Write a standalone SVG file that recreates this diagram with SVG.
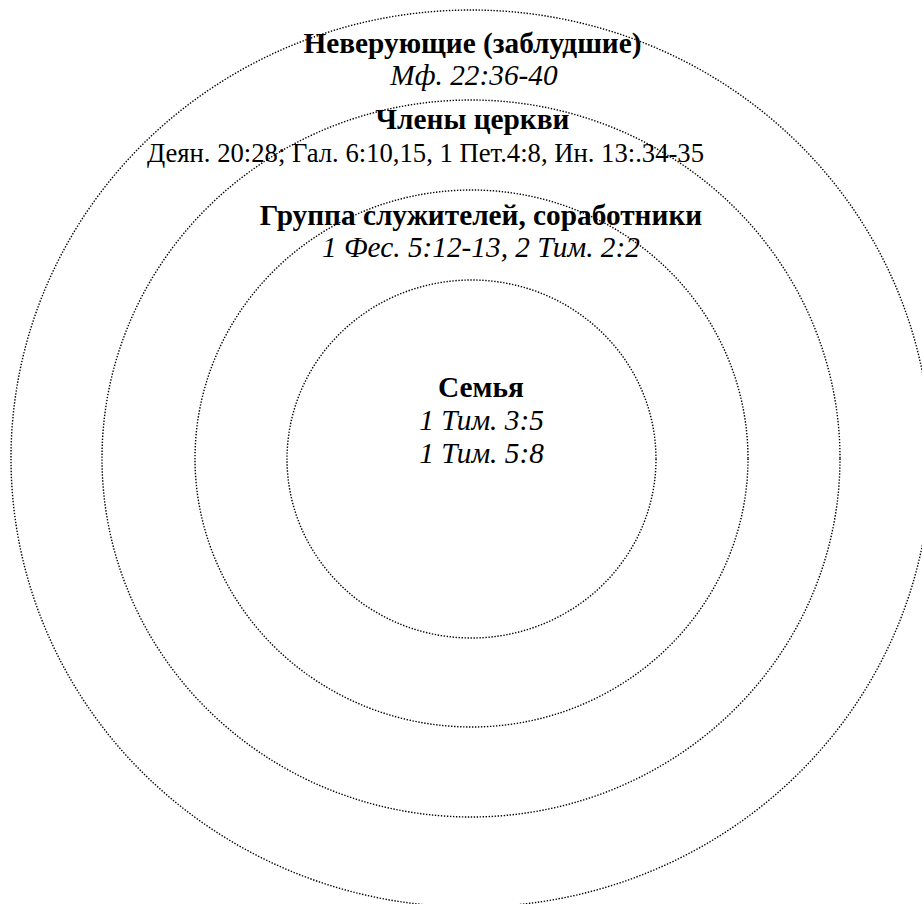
<svg xmlns="http://www.w3.org/2000/svg" width="922" height="904" viewBox="0 0 922 904">
<style>
.ring{fill:none;stroke:#000;stroke-width:1.4;stroke-dasharray:1.4 1.6}
text{font-family:"Liberation Serif","Times New Roman",serif;font-size:26.67px;fill:#000;text-anchor:middle}
.b{font-weight:bold;font-size:29.3px}
.i{font-style:italic;font-size:29.3px}
</style>
<rect width="922" height="904" fill="#fff"/>
<g id="connectors"/>
<g id="ring-outer">
<ellipse class="ring" cx="471" cy="458.5" rx="460" ry="448.5"/>
<text class="b" x="472.5" y="53">Неверующие (заблудшие)</text>
<text class="i" x="474" y="85">Мф. 22:36-40</text>
</g>
<g id="ring-church">
<ellipse class="ring" cx="471" cy="458.5" rx="369" ry="358.5"/>
<text class="b" x="472.5" y="129">Члены церкви</text>
<text x="425.5" y="162">Деян. 20:28; Гал. 6:10,15, 1 Пет.4:8, Ин. 13:.34-35</text>
</g>
<g id="ring-ministers">
<ellipse class="ring" cx="471.5" cy="458.5" rx="276.5" ry="268.5"/>
<text class="b" x="481" y="225">Группа служителей, соработники</text>
<text class="i" x="481" y="257">1 Фес. 5:12-13, 2 Тим. 2:2</text>
</g>
<g id="ring-family">
<ellipse class="ring" cx="471.5" cy="459" rx="184.5" ry="179"/>
<text class="b" x="481" y="397">Семья</text>
<text class="i" x="481.5" y="430">1 Тим. 3:5</text>
<text class="i" x="481.5" y="463">1 Тим. 5:8</text>
</g>
</svg>
